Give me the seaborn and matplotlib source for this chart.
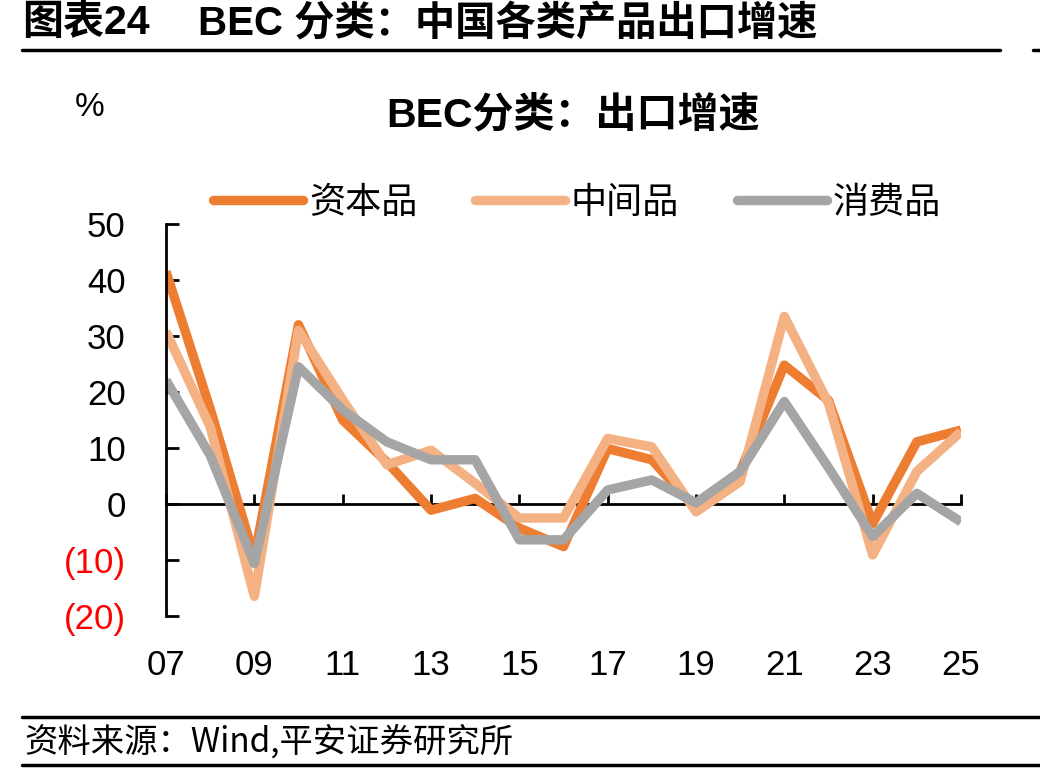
import matplotlib
matplotlib.use("Agg")
import matplotlib.pyplot as plt
import seaborn as sns
import pandas as pd
import numpy as np
from matplotlib.lines import Line2D

years = list(range(2007, 2026))
capital = [41.5, 17.0, -9.5, 32.0, 15.0, 7.5, -1.1, 1.0, -4.3, -7.6, 9.9, 7.9, -0.8, 5.8, 24.8, 18.5, -3.5, 11.1, 13.2]
intermediate = [30.8, 13.8, -16.5, 31.0, 18.6, 7.0, 9.6, 3.7, -2.5, -2.5, 11.7, 10.2, -1.4, 4.0, 33.5, 18.0, -9.1, 5.8, 12.9]
consumer = [22.1, 8.7, -10.6, 24.5, 16.8, 11.1, 7.9, 7.9, -6.4, -6.4, 2.5, 4.3, 0.2, 5.8, 18.3, 6.5, -5.8, 1.9, -3.2]
series_names = ["资本品", "中间品", "消费品"]
colors = ["#ED7D31", "#F4B183", "#A5A5A5"]
yticks = [-20, -10, 0, 10, 20, 30, 40, 50]
xticks = list(range(2007, 2026, 2))

sns.set_theme(style="white")
plt.rcParams['font.family'] = ['Liberation Sans', 'Noto Sans CJK SC', 'DejaVu Sans']
plt.rcParams['axes.unicode_minus'] = False
plt.rcParams['text.color'] = 'black'
plt.rcParams['xtick.color'] = 'black'
plt.rcParams['ytick.color'] = 'black'
plt.rcParams['axes.labelcolor'] = 'black'

df = pd.DataFrame({
    "year": years * 3,
    "value": capital + intermediate + consumer,
    "series": [series_names[0]] * len(years) + [series_names[1]] * len(years) + [series_names[2]] * len(years),
})

fig = plt.figure(figsize=(10.4, 7.74), dpi=100)
ax = fig.add_axes([166 / 1040, 1 - 616 / 774, (961 - 166) / 1040, (616 - 224) / 774])

sns.lineplot(data=df, x="year", y="value", hue="series", hue_order=series_names,
             palette=colors, linewidth=6.8, ax=ax, legend=False,
             solid_capstyle="butt", solid_joinstyle="round")

ax.set_xlim(2007, 2025)
ax.set_ylim(-20, 50)
ax.set_xlabel("")
ax.set_ylabel("")

for s in ["top", "right"]:
    ax.spines[s].set_visible(False)
ax.spines["left"].set_linewidth(2)
ax.spines["left"].set_color("black")
ax.spines["bottom"].set_position(("data", 0))
ax.spines["bottom"].set_linewidth(2)
ax.spines["bottom"].set_color("black")
ax.spines["bottom"].set_zorder(1)

ax.set_yticks(yticks)
ax.set_yticklabels([f"({abs(v)})" if v < 0 else f"{v}" for v in yticks])
for lab, v in zip(ax.get_yticklabels(), yticks):
    lab.set_color("#FF0000" if v < 0 else "black")
ax.tick_params(axis="y", direction="in", length=9, width=2, color="black",
               labelsize=25, pad=29, left=True)
ax.set_xticks(xticks)
ax.tick_params(axis="x", direction="in", length=7, width=2, color="black",
               labelbottom=False, bottom=True)

sec = ax.secondary_xaxis(-0.0)
sec.set_xticks(xticks)
sec.set_xticklabels([f"{y % 100:02d}" for y in xticks])
sec.tick_params(axis="x", length=0, labelsize=25, pad=24, labelcolor="black")
sec.spines["bottom"].set_visible(False)

# legend
handles = [Line2D([0], [0], color=c, linewidth=6.8, solid_capstyle="round") for c in colors]
fig.legend(handles, series_names, loc="center", bbox_to_anchor=(577 / 1040, 1 - 203 / 774),
           ncol=3, frameon=False, handlelength=2.5, handletextpad=0.15,
           columnspacing=1.6, labelcolor="black",
           prop={'family': ['Noto Sans CJK SC'], 'size': 26})

# titles
fig.text(573 / 1040, 1 - 115 / 774, "BEC分类：出口增速", ha="center", va="center",
         fontsize=29.5, fontweight="bold", color="black",
         family=['Liberation Sans', 'Noto Sans CJK SC'])
fig.text(90 / 1040, 1 - 107 / 774, "%", ha="center", va="center", fontsize=24,
         color="black", family=['Liberation Sans'])

fig.text(22 / 1040, 1 - 23 / 774, "图表24", ha="left", va="center", fontsize=29.5,
         fontweight="bold", color="black", family=['Liberation Sans', 'Noto Sans CJK SC'])
fig.text(198 / 1040, 1 - 23 / 774, "BEC 分类：中国各类产品出口增速", ha="left", va="center",
         fontsize=29, fontweight="bold", color="black",
         family=['Liberation Sans', 'Noto Sans CJK SC'])

fig.add_artist(Line2D([22 / 1040, 1000 / 1040], [1 - 50 / 774] * 2, color="black", linewidth=2.5,
                      transform=fig.transFigure))
fig.add_artist(Line2D([1033 / 1040, 1040 / 1040], [1 - 50 / 774] * 2, color="black", linewidth=2.5,
                      transform=fig.transFigure))

# footer
fig.add_artist(Line2D([22 / 1040, 1], [1 - 717 / 774] * 2, color="black", linewidth=2.5,
                      transform=fig.transFigure))
fig.add_artist(Line2D([22 / 1040, 1], [1 - 765 / 774] * 2, color="black", linewidth=2.5,
                      transform=fig.transFigure))
fig.text(24 / 1040, 1 - 742 / 774, "资料来源：Wind,平安证券研究所", ha="left", va="center",
         fontsize=24, style="italic", color="black",
         family=['Noto Sans CJK SC', 'Liberation Sans'])

fig.savefig("out.png", dpi=100)
